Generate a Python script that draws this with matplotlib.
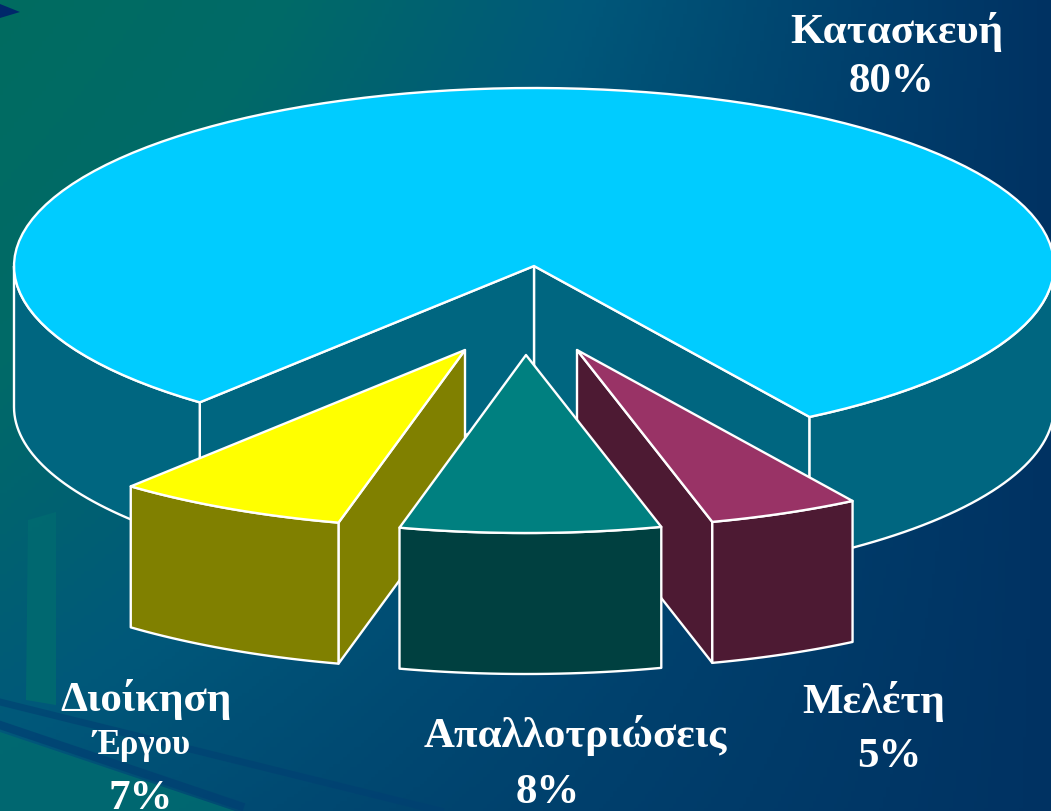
import numpy as np
import matplotlib
matplotlib.use('Agg')
import matplotlib.pyplot as plt
from matplotlib.patches import Polygon
from matplotlib.colors import LinearSegmentedColormap

# Values of the pie (the labels show them rounded)
categories = ["Κατασκευή", "Διοίκηση Έργου", "Απαλλοτριώσεις", "Μελέτη"]
shares = [80, 7.2, 8.1, 4.7]
top_colours = ["#00CCFF", "#FFFF00", "#008080", "#993366"]
side_colours = ["#006680", "#808000", "#004040", "#4D1A33"]
explode = [(0, 0), (-69, 84), (-8, 89), (43, 84)]

CX, CY = 534, 266
RX, RY = 520, 178
DEPTH = 141
START = 32  # degrees from the bottom of the ellipse, going clockwise


def rim(a, b, n=40):
    t = np.radians(np.linspace(a, b, n))
    return np.column_stack([RX * np.sin(t), RY * np.cos(t)])


def face(pts, col, zorder):
    ax.add_patch(Polygon(pts, closed=True, facecolor=col, edgecolor='white',
                         linewidth=1.7, joinstyle='round', zorder=zorder))


fig = plt.figure(figsize=(10.51, 8.11), dpi=100)
ax = fig.add_axes([0, 0, 1, 1])
ax.set_xlim(0, 1051)
ax.set_ylim(811, 0)
ax.axis('off')

# Background gradient
bg = LinearSegmentedColormap.from_list('bg', ["#006C60", "#006A68", "#00587A", "#003F6C", "#002A5C"])
xx, yy = np.meshgrid(np.linspace(0, 1, 300), np.linspace(0, 1, 240))
ax.imshow(0.9 * xx + 0.55 * yy * (1 - xx), cmap=bg, vmin=0, vmax=1,
          extent=[0, 1051, 811, 0], aspect='auto', zorder=0)

# Photo remains at the lower left of the background
ax.add_patch(Polygon([(0, 732), (0, 811), (235, 811)], facecolor="#006A70", edgecolor='none', alpha=0.9, zorder=1))
ax.plot([0, 240], [725, 806], color="#003F72", lw=6, alpha=0.7, zorder=1)
ax.plot([0, 440], [702, 811], color="#003F72", lw=5, alpha=0.6, zorder=1)
ax.add_patch(Polygon([(28, 520), (56, 512), (56, 705), (26, 700)], facecolor="#006A70", edgecolor='none', alpha=0.9, zorder=1))
ax.add_patch(Polygon([(0, 4), (20, 12), (0, 18)], facecolor="#00286A", edgecolor='none', zorder=1))

# Angles of each slice from the shares
angles = START + np.cumsum([0] + [s * 3.6 for s in shares])
z = 2
# the middle slice sits in front of the two others
for i in [0, 1, 3, 2]:
    a, b = angles[i], angles[i + 1]
    dx, dy = explode[i]
    apex = np.array([CX + dx, CY + dy])
    down = np.array([0, DEPTH])
    arc = apex + rim(a, b, 120 if i == 0 else 24)

    if i == 0:
        # big slice: inner walls, outer wall either side of the gap, then the top
        for end in (arc[0], arc[-1]):
            face([apex, end, end + down, apex + down], side_colours[i], z)
        right = apex + rim(a, 90)
        left = apex + rim(270, b)
        face(np.vstack([right, (right + down)[::-1]]), side_colours[i], z)
        face(np.vstack([left, (left + down)[::-1]]), side_colours[i], z)
        face(np.vstack([apex, arc]), top_colours[i], z + 1)
    else:
        # exploded slices: cut wall, outer wall, top
        if i == 1:
            end = arc[-1]
        elif i == 3:
            end = arc[0]
        else:
            end = None
        if end is not None:
            face([apex, end, end + down, apex + down], side_colours[i], z)
        face(np.vstack([arc, (arc + down)[::-1]]), side_colours[i], z + 1)
        face(np.vstack([apex, arc]), top_colours[i], z + 2)
    z += 3

# Labels
serif = dict(family='Liberation Serif', weight='bold', color='white', ha='center', va='center', zorder=40)
ax.text(897, 32, "Κατασκευή", fontsize=31, **serif)
ax.text(891, 82, "80%", fontsize=31, **serif)
ax.text(146, 699, "Διοίκηση", fontsize=31, **serif)
ax.text(141, 746, "Έργου", fontsize=25, **serif)
ax.text(141, 799, "7%", fontsize=31, **serif)
ax.text(575, 736, "Απαλλοτριώσεις", fontsize=31, **serif)
ax.text(548, 793, "8%", fontsize=31, **serif)
ax.text(874, 702, "Μελέτη", fontsize=31, **serif)
ax.text(889, 757, "5%", fontsize=31, **serif)

fig.savefig('out.png', dpi=100)
